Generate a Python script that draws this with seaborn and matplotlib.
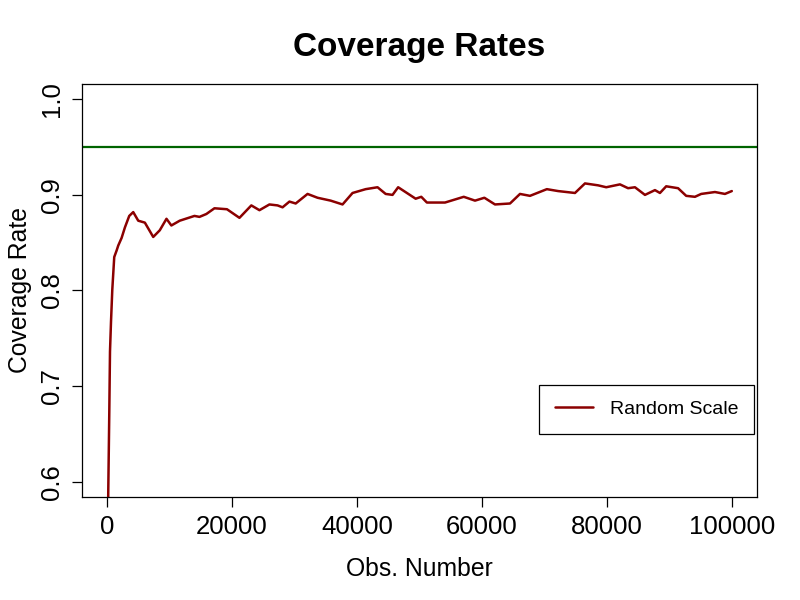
import pandas as pd
import matplotlib
matplotlib.use("Agg")
import matplotlib.pyplot as plt
import seaborn as sns

# === Data ===
obs_number = [
    100, 200, 370, 480, 640, 850, 1160, 1550, 1800, 2340, 2870, 3560, 4200,
    5000, 6060, 7400, 8450, 9520, 10300, 11640, 14000, 14800, 15900, 17200,
    19200, 21200, 23100, 24400, 26000, 27300, 28100, 29200, 30200, 32100,
    33700, 35800, 37700, 39300, 41400, 43300, 44600, 45700, 46600, 48000,
    49400, 50300, 51200, 54100, 57100, 58900, 60400, 62100, 64500, 66100,
    67700, 70400, 72200, 74900, 76500, 78600, 79900, 82100, 83400, 84500,
    86100, 87700, 88500, 89500, 91400, 92700, 94100, 95100, 97300, 98900,
    100000,
]
coverage_rate = [
    0.500, 0.588, 0.674, 0.736, 0.767, 0.801, 0.835, 0.842, 0.847, 0.855,
    0.866, 0.878, 0.882, 0.873, 0.871, 0.856, 0.863, 0.875, 0.868, 0.873,
    0.878, 0.877, 0.880, 0.886, 0.885, 0.876, 0.889, 0.884, 0.890, 0.889,
    0.887, 0.893, 0.891, 0.901, 0.897, 0.894, 0.890, 0.902, 0.906, 0.908,
    0.901, 0.900, 0.908, 0.902, 0.896, 0.898, 0.892, 0.892, 0.898, 0.894,
    0.897, 0.890, 0.891, 0.901, 0.899, 0.906, 0.904, 0.902, 0.912, 0.910,
    0.908, 0.911, 0.907, 0.908, 0.900, 0.905, 0.902, 0.909, 0.907, 0.899,
    0.898, 0.901, 0.903, 0.901, 0.904,
]
target_rate = 0.95
series_name = "Random Scale"

df = pd.DataFrame({"obs": obs_number, "rate": coverage_rate, "method": series_name})

# === Plot ===
sns.set_style("white")
plt.rcParams["font.family"] = ["Liberation Sans", "DejaVu Sans"]
plt.rcParams.update({"text.color": "black", "axes.labelcolor": "black",
                     "xtick.color": "black", "ytick.color": "black"})

fig = plt.figure(figsize=(8, 6), dpi=100)
ax = fig.add_axes([0.1025, 0.1717, 0.8435, 0.6883])

ax.axhline(target_rate, color="#006400", lw=1.6, zorder=1)
sns.lineplot(data=df, x="obs", y="rate", hue="method",
             palette=["#8B0000"], lw=1.8, ax=ax, zorder=2)

ax.set_xlim(-4000, 104000)
ax.set_ylim(0.584, 1.016)
ax.set_xticks([0, 20000, 40000, 60000, 80000, 100000])
ax.set_yticks([0.6, 0.7, 0.8, 0.9, 1.0])
ax.set_yticklabels(["0.6", "0.7", "0.8", "0.9", "1.0"])

for s in ax.spines.values():
    s.set_visible(True)
    s.set_color("black")
    s.set_linewidth(0.9)

ax.tick_params(axis="both", direction="out", length=7, width=0.9,
               color="black", labelcolor="black", labelsize=18.5, pad=6,
               bottom=True, left=True)
ax.tick_params(axis="y", labelrotation=90)
for lab in ax.get_yticklabels():
    lab.set_va("center")

ax.set_title("Coverage Rates", fontsize=24, fontweight="bold", pad=20,
             color="black")
ax.set_xlabel("Obs. Number", fontsize=17.8, labelpad=13)
ax.set_ylabel("Coverage Rate", fontsize=17.8, labelpad=6)

leg = ax.legend(loc="lower right", bbox_to_anchor=(0.996, 0.153),
                borderaxespad=0, fancybox=False, edgecolor="black",
                framealpha=1, fontsize=14, handlelength=1.95,
                borderpad=0.8, handletextpad=0.9)
leg.get_frame().set_linewidth(0.9)
for t in leg.get_texts():
    t.set_color("black")

plt.savefig("out.png", dpi=100)
